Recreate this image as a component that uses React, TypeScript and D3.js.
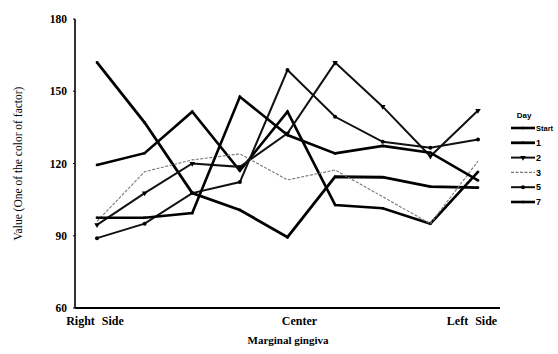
import React from "react";
import * as d3 from "d3";

const positions = [0, 1, 2, 3, 4, 5, 6, 7, 8];
const xTickLabels = [
  { pos: 0, label: "Right Side" },
  { pos: 4, label: "Center" },
  { pos: 8, label: "Left Side" },
];
const yTicks = [60, 90, 120, 150, 180];

const dayStart = [119.4, 124.3, 141.5, 117, 141.5, 102.8, 101.4, 95, 116.5];
const day1 = [162, 137, 107.7, 100.7, 89.4, 114.5, 114.3, 110.4, 110];
const day2 = [94.5, 107.7, 120, 118.6, 132.5, 161.9, 143.6, 123, 142];
const day3 = [96, 116.6, 121.5, 124, 113.2, 117.3, 106.2, 95, 121];
const day5 = [89, 95, 107.7, 112.3, 158.8, 139.4, 129, 126.5, 130];
const day7 = [97.5, 97.5, 99.4, 147.7, 131.8, 124.2, 127.3, 124.5, 113];

const seriesNames = ["Start", "1", "2", "3", "5", "7"];
const seriesValues = [dayStart, day1, day2, day3, day5, day7];
const strokeWidths = [2.6, 2.8, 2, 1.1, 2, 2.6];
const strokeColors = ["#000", "#000", "#111", "#777", "#111", "#000"];
const dashes = ["", "", "", "3,1.5", "", ""];
const markerKinds = ["square", "square", "triangle", "none", "circle", "square"];

export default function App() {
  const W = 558;
  const H = 354;
  const x = d3.scalePoint<number>().domain(positions).range([97, 478]);
  const y = d3.scaleLinear().domain([60, 180]).range([308, 19]);
  const line = d3
    .line<number>()
    .x((_, i) => x(positions[i]) as number)
    .y((v) => y(v));

  const serif = "'Liberation Serif', 'DejaVu Serif', serif";
  const sans = "'Liberation Sans', Arial, sans-serif";

  const marker = (kind: string, cx: number, cy: number, key: string) => {
    if (kind === "circle") return <circle key={key} cx={cx} cy={cy} r={2} fill="#000" />;
    if (kind === "triangle")
      return (
        <path
          key={key}
          d={d3.symbol().type(d3.symbolTriangle).size(13)() as string}
          transform={`translate(${cx},${cy}) rotate(180)`}
          fill="#000"
        />
      );
    if (kind === "square") return <rect key={key} x={cx - 1.2} y={cy - 1.2} width={2.4} height={2.4} fill="#000" />;
    return null;
  };

  return (
    <svg
      width={W}
      height={H}
      style={{ position: "absolute", left: 0, top: 0, background: "#fff" }}
    >
      {/* axes */}
      <line x1={75} x2={75} y1={y(180)} y2={y(60)} stroke="#000" strokeWidth={1.6} />
      <line x1={75} x2={500} y1={y(60)} y2={y(60)} stroke="#000" strokeWidth={2} />
      {yTicks.map((t) => (
        <g key={t}>
          <line x1={73} x2={75} y1={y(t)} y2={y(t)} stroke="#000" strokeWidth={1} />
          <text
            x={67}
            y={y(t)}
            dy="0.35em"
            textAnchor="end"
            fontFamily={serif}
            fontSize={11.5}
            fontWeight="bold"
          >
            {t}
          </text>
        </g>
      ))}
      {xTickLabels.map((t, i) => (
        <text
          key={t.label}
          x={(x(t.pos) as number) + (i === 1 ? 12 : i === 2 ? -6 : -2)}
          y={325}
          textAnchor="middle"
          fontFamily={serif}
          fontSize={12}
          fontWeight="bold"
          wordSpacing={4}
        >
          {t.label}
        </text>
      ))}
      <text
        x={288}
        y={344}
        textAnchor="middle"
        fontFamily={serif}
        fontSize={11}
        fontWeight="bold"
      >
        Marginal gingiva
      </text>
      <text
        transform={`translate(22,${(y(60) + y(180)) / 2}) rotate(-90)`}
        textAnchor="middle"
        fontFamily={serif}
        fontSize={11.5}
      >
        Value (One of the color of factor)
      </text>

      {/* series */}
      {seriesValues.map((vals, si) => (
        <g key={seriesNames[si]}>
          <path
            d={line(vals) as string}
            fill="none"
            stroke={strokeColors[si]}
            strokeWidth={strokeWidths[si]}
            strokeDasharray={dashes[si]}
            strokeLinejoin="miter"
          />
          {vals.map((v, i) =>
            marker(markerKinds[si], x(positions[i]) as number, y(v), `${si}-${i}`)
          )}
        </g>
      ))}

      {/* legend */}
      <text x={524} y={118} textAnchor="middle" fontFamily={sans} fontSize={8} fontWeight="bold">
        Day
      </text>
      {seriesNames.map((name, i) => {
        const ly = 128 + i * 14.8;
        return (
          <g key={name}>
            <line
              x1={511}
              x2={535}
              y1={ly}
              y2={ly}
              stroke={strokeColors[i]}
              strokeWidth={strokeWidths[i]}
              strokeDasharray={dashes[i]}
            />
            {marker(markerKinds[i], 523, ly, `lg-${i}`)}
            <text x={536} y={ly} dy="0.35em" fontFamily={sans} fontSize={i === 0 ? 7.5 : 9} fontWeight="bold">
              {name}
            </text>
          </g>
        );
      })}
    </svg>
  );
}
